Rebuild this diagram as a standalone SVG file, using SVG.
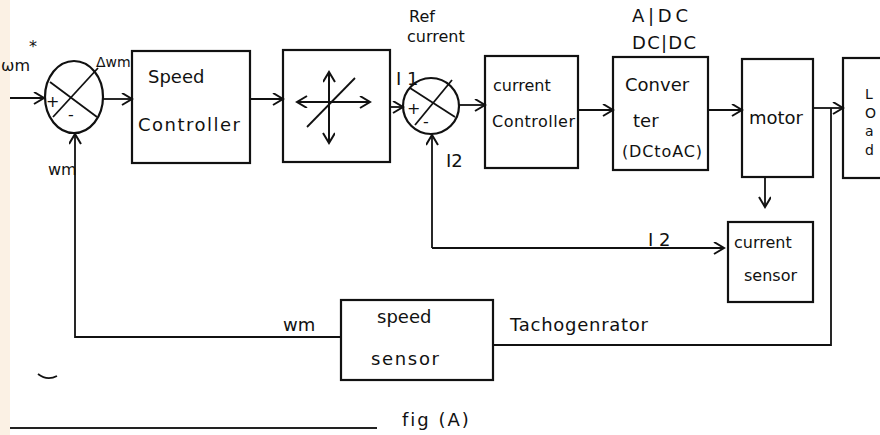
<svg xmlns="http://www.w3.org/2000/svg" width="880" height="435" viewBox="0 0 880 435">
  <defs>
    <marker id="arr" markerUnits="userSpaceOnUse" markerWidth="14" markerHeight="14" refX="11" refY="6" orient="auto">
      <path d="M1,0 L11,6 L1,12" fill="none" stroke="#111" stroke-width="2"/>
    </marker>
    <style>
      .box { fill: none; stroke: #111; stroke-width: 2.2; }
      .ln { fill: none; stroke: #111; stroke-width: 1.8; }
      .wire { fill: none; stroke: #111; stroke-width: 1.8; marker-end: url(#arr); }
      .t { font-family: "DejaVu Sans", "Liberation Sans", sans-serif; font-size: 18px; fill: #111; }
      .m { font-family: "DejaVu Sans", "Liberation Sans", sans-serif; font-size: 16px; fill: #111; }
      .s { font-family: "DejaVu Sans", "Liberation Sans", sans-serif; font-size: 14px; fill: #111; }
    </style>
  </defs>

  <rect x="0" y="0" width="880" height="435" fill="#ffffff"/>
  <rect x="0" y="0" width="10" height="435" fill="#fbf1e4"/>

  <!-- speed summing junction -->
  <g id="sum-speed">
    <ellipse class="box" cx="74" cy="97" rx="29" ry="36"/>
    <line class="ln" x1="50" y1="82" x2="97" y2="117"/>
    <line class="ln" x1="53" y1="117" x2="98" y2="68"/>
    <text class="m" x="46" y="107">+</text>
    <text class="m" x="68" y="120">-</text>
    <text class="m" x="1" y="71">ωm</text>
    <text class="m" x="29" y="52">*</text>
    <text class="s" x="96" y="67">Δwm</text>
    <text class="m" x="48" y="175">wm</text>
  </g>

  <!-- speed controller -->
  <g id="speed-controller">
    <rect class="box" x="132" y="51" width="118" height="112"/>
    <text class="t" x="148" y="83">Speed</text>
    <text class="t" x="138" y="131" textLength="102">Controller</text>
  </g>

  <!-- limiter -->
  <g id="limiter">
    <rect class="box" x="283" y="50" width="107" height="112"/>
    <line class="ln" x1="299" y1="102" x2="370" y2="102" marker-end="url(#arr)"/>
    <line class="ln" x1="370" y1="102" x2="297" y2="102" marker-end="url(#arr)"/>
    <line class="ln" x1="329" y1="143" x2="329" y2="72" marker-end="url(#arr)"/>
    <line class="ln" x1="329" y1="72" x2="329" y2="143" marker-end="url(#arr)"/>
    <line class="ln" x1="307" y1="127" x2="355" y2="78"/>
  </g>

  <!-- current summing junction -->
  <g id="sum-current">
    <ellipse class="box" cx="431" cy="106" rx="28" ry="28"/>
    <line class="ln" x1="410" y1="88" x2="455" y2="117"/>
    <line class="ln" x1="415" y1="125" x2="452" y2="80"/>
    <text class="m" x="407" y="114">+</text>
    <text class="m" x="423" y="127">-</text>
    <text class="m" x="409" y="22">Ref</text>
    <text class="m" x="407" y="42">current</text>
    <text class="t" x="396" y="85">I 1</text>
    <text class="t" x="446" y="167">I2</text>
  </g>

  <!-- current controller -->
  <g id="current-controller">
    <rect class="box" x="485" y="56" width="93" height="112"/>
    <text class="m" x="493" y="91">current</text>
    <text class="m" x="492" y="127" textLength="83">Controller</text>
  </g>

  <!-- converter -->
  <g id="converter">
    <rect class="box" x="613" y="57" width="95" height="113"/>
    <text class="t" x="632" y="22" textLength="56">A|DC</text>
    <text class="t" x="632" y="49" textLength="64">DC|DC</text>
    <text class="t" x="625" y="91">Conver</text>
    <text class="t" x="633" y="127">ter</text>
    <text class="m" x="622" y="157" textLength="80">(DCtoAC)</text>
  </g>

  <!-- motor -->
  <g id="motor">
    <rect class="box" x="742" y="59" width="71" height="118"/>
    <text class="t" x="749" y="124">motor</text>
  </g>

  <!-- load -->
  <g id="load">
    <rect class="box" x="843" y="58" width="60" height="120"/>
    <text class="s" x="865" y="99">L</text>
    <text class="s" x="865" y="118">O</text>
    <text class="s" x="865" y="136" fill="#8a5a3a">a</text>
    <text class="s" x="865" y="155">d</text>
  </g>

  <!-- current sensor -->
  <g id="current-sensor">
    <rect class="box" x="728" y="222" width="85" height="80" stroke-width="1.6"/>
    <text class="m" x="734" y="248">current</text>
    <text class="m" x="744" y="281">sensor</text>
  </g>

  <!-- speed sensor -->
  <g id="speed-sensor">
    <rect class="box" x="341" y="300" width="152" height="80" stroke-width="1.6"/>
    <text class="t" x="377" y="323">speed</text>
    <text class="t" x="371" y="365" textLength="68">sensor</text>
  </g>

  <!-- signal paths -->
  <g id="connectors">
    <path class="wire" d="M10,98 H44"/>
    <path class="wire" d="M103,99 H132"/>
    <path class="wire" d="M250,99 H283"/>
    <path class="wire" d="M390,107 H403"/>
    <path class="wire" d="M459,105 H485"/>
    <path class="wire" d="M578,110 H613"/>
    <path class="wire" d="M708,110 H742"/>
    <path class="wire" d="M813,108 H843"/>
    <path class="wire" d="M765,177 V207"/>
    <path class="wire" d="M432,248 H724"/>
    <path class="wire" d="M432,248 V135"/>
    <path class="ln" d="M831,108 V345 H494"/>
    <path class="wire" d="M341,337 H75 V134"/>
  </g>

  <!-- labels on the feedback paths -->
  <text class="t" x="648" y="246">I 2</text>
  <text class="t" x="283" y="331">wm</text>
  <text class="t" x="510" y="331" textLength="138">Tachogenrator</text>
  <text class="t" x="402" y="426" letter-spacing="2">fig (A)</text>

  <!-- stray pen mark and page rule -->
  <path class="ln" d="M38,374 Q47,381 57,376"/>
  <path d="M10,428 H377" stroke="#222" stroke-width="2" fill="none"/>
</svg>
